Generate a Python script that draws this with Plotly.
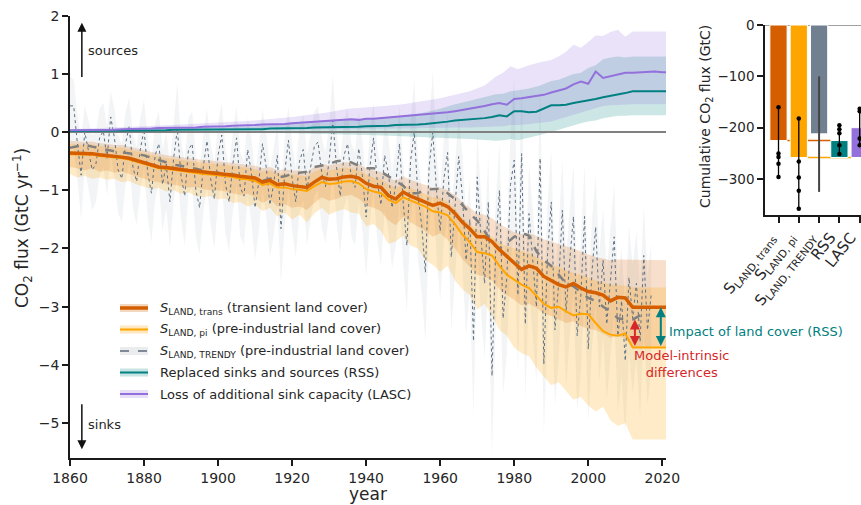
import plotly.graph_objects as go

W, H = 861, 505

# ---------------- data: main panel (GtC / yr) ----------------
YEARS2 = list(range(1860, 2021, 2)) + [2021]

S_TRANS = [-0.36, -0.36, -0.37, -0.37, -0.39, -0.40, -0.42, -0.43, -0.45, -0.49,
           -0.52, -0.56, -0.60, -0.61, -0.63, -0.64, -0.66, -0.67, -0.69, -0.70,
           -0.71, -0.72, -0.74, -0.76, -0.77, -0.79, -0.86, -0.83, -0.90, -0.89,
           -0.92, -0.93, -0.95, -0.86, -0.78, -0.81, -0.80, -0.77, -0.76, -0.79,
           -0.88, -0.93, -0.95, -1.09, -1.15, -1.03, -1.10, -1.15, -1.20, -1.26,
           -1.22, -1.28, -1.40, -1.55, -1.66, -1.80, -1.80, -1.88, -2.02, -2.14,
           -2.24, -2.36, -2.30, -2.34, -2.48, -2.55, -2.62, -2.66, -2.60, -2.68,
           -2.74, -2.76, -2.80, -2.90, -2.84, -2.85, -3.01, -3.01, -3.01, -3.01,
           -3.01, -3.01]
S_TRANS_HI = [-0.15, -0.16, -0.17, -0.16, -0.19, -0.20, -0.22, -0.22, -0.25, -0.28,
              -0.32, -0.35, -0.38, -0.40, -0.41, -0.43, -0.45, -0.46, -0.48, -0.49,
              -0.50, -0.51, -0.53, -0.55, -0.56, -0.58, -0.62, -0.60, -0.66, -0.64,
              -0.66, -0.66, -0.68, -0.60, -0.55, -0.57, -0.55, -0.52, -0.52, -0.55,
              -0.62, -0.66, -0.68, -0.78, -0.84, -0.76, -0.82, -0.86, -0.90, -0.95,
              -0.95, -1.00, -1.08, -1.20, -1.30, -1.40, -1.42, -1.48, -1.58, -1.65,
              -1.72, -1.75, -1.74, -1.78, -1.84, -1.88, -1.92, -1.95, -2.00, -2.05,
              -2.10, -2.15, -2.17, -2.20, -2.19, -2.19, -2.20, -2.20, -2.20, -2.20,
              -2.20, -2.20]
S_TRANS_LO = [-0.60, -0.62, -0.66, -0.62, -0.68, -0.66, -0.70, -0.68, -0.72, -0.76,
              -0.80, -0.84, -0.86, -0.88, -0.90, -0.92, -0.95, -0.94, -0.98, -1.00,
              -1.00, -1.02, -1.05, -1.08, -1.06, -1.12, -1.22, -1.15, -1.28, -1.24,
              -1.30, -1.28, -1.34, -1.22, -1.12, -1.18, -1.15, -1.10, -1.08, -1.14,
              -1.26, -1.30, -1.36, -1.52, -1.60, -1.45, -1.55, -1.62, -1.70, -1.80,
              -1.74, -1.85, -2.00, -2.18, -2.32, -2.45, -2.48, -2.55, -2.70, -2.80,
              -2.88, -2.98, -2.95, -3.02, -3.12, -3.16, -3.22, -3.28, -3.25, -3.33,
              -3.38, -3.40, -3.46, -3.54, -3.50, -3.55, -3.70, -3.70, -3.70, -3.70,
              -3.70, -3.70]

S_PI = [-0.38, -0.38, -0.39, -0.39, -0.41, -0.42, -0.44, -0.45, -0.47, -0.51,
        -0.54, -0.58, -0.62, -0.63, -0.65, -0.67, -0.69, -0.70, -0.72, -0.73,
        -0.74, -0.75, -0.77, -0.80, -0.81, -0.84, -0.91, -0.88, -0.95, -0.95,
        -0.98, -0.99, -1.01, -0.93, -0.86, -0.89, -0.88, -0.85, -0.84, -0.88,
        -0.98, -1.02, -1.05, -1.16, -1.22, -1.12, -1.17, -1.22, -1.28, -1.36,
        -1.38, -1.43, -1.58, -1.76, -1.89, -2.06, -2.08, -2.12, -2.30, -2.45,
        -2.54, -2.62, -2.68, -2.82, -2.95, -3.02, -3.00, -3.08, -3.15, -3.12,
        -3.13, -3.28, -3.42, -3.48, -3.50, -3.46, -3.70, -3.70, -3.70, -3.70,
        -3.70, -3.70]
S_PI_HI = [-0.20, -0.21, -0.22, -0.21, -0.24, -0.25, -0.27, -0.27, -0.30, -0.33,
           -0.37, -0.40, -0.43, -0.45, -0.46, -0.48, -0.50, -0.51, -0.53, -0.54,
           -0.55, -0.56, -0.58, -0.60, -0.62, -0.64, -0.68, -0.66, -0.72, -0.71,
           -0.73, -0.74, -0.76, -0.68, -0.63, -0.66, -0.64, -0.61, -0.62, -0.65,
           -0.73, -0.78, -0.81, -0.90, -0.96, -0.90, -0.96, -1.01, -1.06, -1.12,
           -1.13, -1.20, -1.32, -1.48, -1.58, -1.68, -1.72, -1.80, -1.90, -1.96,
           -2.00, -2.04, -2.08, -2.15, -2.22, -2.28, -2.32, -2.38, -2.42, -2.45,
           -2.50, -2.55, -2.58, -2.62, -2.63, -2.64, -2.67, -2.67, -2.67, -2.67,
           -2.67, -2.67]
S_PI_LO = [-0.72, -0.78, -0.75, -0.80, -0.78, -0.82, -0.80, -0.86, -0.84, -0.90,
           -0.94, -0.98, -0.96, -1.02, -1.00, -1.06, -1.04, -1.10, -1.12, -1.10,
           -1.16, -1.14, -1.22, -1.20, -1.28, -1.24, -1.36, -1.30, -1.45, -1.38,
           -1.50, -1.42, -1.55, -1.40, -1.30, -1.42, -1.36, -1.32, -1.38, -1.40,
           -1.62, -1.58, -1.70, -1.92, -1.88, -1.78, -1.95, -2.00, -2.20, -2.28,
           -2.40, -2.30, -2.55, -2.70, -2.80, -3.05, -2.95, -3.15, -3.40, -3.50,
           -3.70, -3.80, -3.85, -4.05, -4.20, -4.35, -4.30, -4.45, -4.60, -4.55,
           -4.70, -4.80, -4.72, -4.95, -5.05, -5.00, -5.28, -5.28, -5.28, -5.28,
           -5.28, -5.28]

RSS = [0.02, 0.02, 0.02, 0.02, 0.02, 0.02, 0.03, 0.03, 0.03, 0.03,
       0.03, 0.03, 0.03, 0.03, 0.04, 0.04, 0.04, 0.04, 0.04, 0.04,
       0.04, 0.04, 0.05, 0.05, 0.05, 0.05, 0.05, 0.06, 0.06, 0.06,
       0.07, 0.07, 0.07, 0.08, 0.08, 0.08, 0.09, 0.09, 0.09, 0.09,
       0.10, 0.10, 0.11, 0.11, 0.12, 0.12, 0.13, 0.13, 0.14, 0.15,
       0.16, 0.18, 0.20, 0.21, 0.21, 0.22, 0.24, 0.26, 0.29, 0.27,
       0.36, 0.36, 0.34, 0.35, 0.40, 0.46, 0.46, 0.47, 0.50, 0.52,
       0.54, 0.57, 0.60, 0.62, 0.65, 0.67, 0.70, 0.70, 0.70, 0.70,
       0.70, 0.70]
LASC = [0.03, 0.03, 0.03, 0.03, 0.04, 0.04, 0.04, 0.05, 0.05, 0.05,
        0.06, 0.06, 0.07, 0.07, 0.07, 0.08, 0.08, 0.08, 0.09, 0.09,
        0.10, 0.10, 0.11, 0.11, 0.12, 0.12, 0.13, 0.13, 0.14, 0.14,
        0.15, 0.16, 0.17, 0.17, 0.18, 0.19, 0.20, 0.21, 0.22, 0.21,
        0.23, 0.23, 0.24, 0.25, 0.26, 0.27, 0.28, 0.29, 0.31, 0.32,
        0.33, 0.34, 0.36, 0.38, 0.40, 0.43, 0.45, 0.48, 0.50, 0.47,
        0.57, 0.58, 0.60, 0.62, 0.64, 0.68, 0.71, 0.75, 0.82, 0.87,
        0.83, 1.04, 0.93, 0.96, 1.00, 1.02, 1.02, 1.03, 1.04, 1.04,
        1.03, 1.03]

YEARS_B = [1860, 1870, 1880, 1890, 1900, 1910, 1920, 1930, 1935, 1940,
           1945, 1950, 1955, 1960, 1964, 1968, 1972, 1975, 1977, 1979,
           1981, 1984, 1987, 1990, 1992, 1994, 1996, 1998, 2000, 2002,
           2004, 2006, 2008, 2010, 2012, 2021]
RSS_HI = [0.03, 0.04, 0.05, 0.06, 0.08, 0.10, 0.14, 0.18, 0.20, 0.22,
          0.25, 0.28, 0.33, 0.40, 0.48, 0.54, 0.60, 0.65, 0.66, 0.70,
          0.72, 0.75, 0.80, 0.88, 0.90, 0.95, 1.00, 1.02, 1.10, 1.15,
          1.25, 1.28, 1.30, 1.28, 1.30, 1.30]
RSS_LO = [0.00, 0.00, 0.00, 0.00, 0.00, -0.01, -0.02, -0.03, -0.04, -0.05,
          -0.06, -0.07, -0.08, -0.10, -0.11, -0.12, -0.13, -0.15, -0.14, -0.12,
          -0.14, -0.10, -0.05, 0.00, 0.04, 0.08, 0.12, 0.15, 0.18, 0.20,
          0.24, 0.26, 0.28, 0.28, 0.29, 0.29]
LASC_HI = [0.05, 0.07, 0.10, 0.13, 0.16, 0.20, 0.26, 0.34, 0.40, 0.42,
           0.45, 0.48, 0.53, 0.58, 0.64, 0.70, 0.80, 0.95, 1.02, 1.13,
           1.08, 1.15, 1.20, 1.24, 1.30, 1.38, 1.50, 1.45, 1.55, 1.66,
           1.65, 1.72, 1.76, 1.64, 1.73, 1.73]
LASC_LO = [0.01, 0.02, 0.02, 0.03, 0.03, 0.04, 0.04, 0.05, 0.05, 0.06,
           0.06, 0.06, 0.07, 0.07, 0.08, 0.08, 0.09, 0.10, 0.10, 0.12,
           0.12, 0.14, 0.16, 0.18, 0.22, 0.26, 0.30, 0.34, 0.38, 0.42,
           0.45, 0.46, 0.47, 0.47, 0.48, 0.48]

YEARS_TR_SMOOTH = list(range(1860, 2017, 2))
TRENDY_SMOOTH = [-0.27, -0.24, -0.22, -0.25, -0.28, -0.30, -0.33, -0.35, -0.36, -0.38,
                 -0.40, -0.44, -0.47, -0.52, -0.56, -0.58, -0.60, -0.63, -0.66, -0.70,
                 -0.70, -0.71, -0.73, -0.75, -0.80, -0.85, -0.84, -0.80, -0.78, -0.76,
                 -0.72, -0.70, -0.68, -0.60, -0.57, -0.55, -0.50, -0.49, -0.52, -0.58,
                 -0.62, -0.62, -0.68, -0.76, -0.84, -0.92, -1.05, -1.05, -0.99, -0.98,
                 -0.97, -1.05, -1.15, -1.25, -1.40, -1.52, -1.70, -1.92, -2.00, -1.90,
                 -1.80, -1.73, -1.78, -2.05, -2.20, -2.30, -2.45, -2.60, -2.65, -2.75,
                 -2.85, -2.90, -3.00, -3.08, -3.20, -3.22, -3.22, -3.15, -3.12]

YEARS_TR_ANNUAL = list(range(1860, 2018))
TRENDY_ANNUAL = [0.45, 0.45, -0.20, -0.74, 0.00, -0.30, -0.65, -0.55, -0.10, 0.02,
                 -0.45, 0.26, -0.10, -0.65, -0.80, -0.20, 0.10, -0.60, -0.85, -0.30,
                 0.05, -0.70, -1.05, -0.40, -0.20, -0.90, -0.55, -1.20, -0.45, 0.05,
                 -0.75, -1.10, -0.30, -0.20, -1.00, -1.30, -0.60, -0.15, -0.80, -1.15,
                 -0.40, -0.05, -0.90, -1.20, -0.55, -0.10, -0.95, -1.10, -0.30, -0.70,
                 -1.30, -0.85, -0.20, -0.60, -1.25, -0.90, -0.40, -1.66, -0.70, -0.14,
                 -0.80, -1.20, -0.50, -0.30, -1.00, -0.60, -0.25, -0.17, -0.70, -0.94,
                 -0.50, 0.20, -0.60, -1.10, -0.40, -0.20, -0.80, -0.95, -0.28, -0.75,
                 -1.46, -0.60, -0.10, -0.85, -1.25, -0.40, -0.70, -1.30, -0.90, -0.20,
                 -1.20, -1.95, -0.50, 0.00, -1.10, -1.60, -2.41, -0.60, 0.00, -1.00,
                 -1.70, -0.80, -0.35, -2.15, -1.20, -0.42, -1.10, -2.20, -1.50, -3.59,
                 -0.77, -1.80, -2.60, -1.20, -4.19, -2.00, -1.00, -3.20, -2.50, -0.90,
                 -0.48, -2.80, -0.37, -3.30, -1.40, -2.20, -3.00, -0.45, -3.99, -2.10,
                 -1.20, -3.40, -2.60, -1.34, -3.10, -2.20, -1.45, -3.50, -2.80, -1.45,
                 -3.73, -2.40, -1.63, -3.00, -2.20, -3.30, -2.60, -1.80, -3.50, -2.90,
                 -3.93, -2.50, -3.20, -2.60, -3.60, -2.12, -3.40, -2.80]
TRENDY_ANNUAL_HI = [0.95, 0.90, 0.30, -0.10, 0.45, 0.20, -0.05, 0.00, 0.40, 0.50,
                    0.10, 0.70, 0.40, -0.05, -0.20, 0.35, 0.60, -0.05, -0.25, 0.25,
                    0.55, -0.10, -0.45, 0.15, 0.35, -0.30, 0.00, -0.55, 0.10, 0.85,
                    -0.15, -0.50, 0.25, 0.35, -0.40, -0.70, -0.05, 0.40, -0.20, -0.55,
                    0.15, 0.50, -0.30, -0.60, 0.00, 0.45, -0.35, -0.50, 0.25, -0.10,
                    -0.70, -0.25, 0.40, 0.00, -0.65, -0.30, 0.20, -1.00, -0.10, 0.45,
                    -0.20, -0.60, 0.10, 0.30, -0.40, 0.00, 0.35, 0.45, -0.10, -0.35,
                    0.10, 1.00, 0.00, -0.50, 0.20, 0.40, -0.20, -0.35, 0.35, -0.15,
                    -0.85, 0.00, 0.50, -0.25, -0.65, 0.20, -0.10, -0.70, -0.30, 0.45,
                    -0.55, -1.30, 0.15, 0.90, -0.45, -0.95, -1.70, 0.05, 1.05, -0.35,
                    -1.00, -0.10, 0.35, -1.40, -0.50, 0.30, -0.40, -1.45, -0.80, -2.70,
                    0.00, -1.05, -1.80, -0.40, -3.20, -1.20, -0.20, -2.30, -1.70, -0.05,
                    0.95, -1.90, 0.85, -2.40, -0.55, -1.30, -2.10, 0.80, -3.00, -1.20,
                    -0.30, -2.50, -1.70, -0.45, -2.20, -1.30, -0.55, -2.60, -1.90, -0.55,
                    -2.80, -1.50, -0.75, -2.10, -1.30, -2.40, -1.70, -0.90, -2.60, -2.00,
                    -3.00, -1.60, -2.30, -1.70, -2.70, -1.25, -2.50, -1.90]
TRENDY_ANNUAL_LO = [-0.15, -0.30, -0.80, -1.50, -0.60, -1.00, -1.35, -1.20, -0.75, -0.60,
                    -1.10, -0.35, -0.80, -1.40, -1.55, -0.90, -0.50, -1.30, -1.60, -1.00,
                    -0.60, -1.45, -1.90, -1.15, -0.90, -1.70, -1.30, -2.00, -1.20, -0.70,
                    -1.50, -1.95, -1.05, -0.95, -1.80, -2.10, -1.40, -0.90, -1.60, -2.00,
                    -1.20, -0.85, -1.75, -2.05, -1.35, -0.90, -1.80, -1.95, -1.10, -1.55,
                    -2.20, -1.70, -1.00, -1.45, -2.15, -1.80, -1.25, -2.60, -1.60, -0.95,
                    -1.70, -2.15, -1.40, -1.15, -1.95, -1.50, -1.10, -1.00, -1.65, -1.90,
                    -1.40, -0.60, -1.55, -2.10, -1.30, -1.10, -1.80, -1.95, -1.20, -1.70,
                    -2.50, -1.55, -1.00, -1.85, -2.30, -1.35, -1.70, -2.35, -1.95, -1.15,
                    -2.30, -3.10, -1.50, -0.95, -2.20, -2.75, -3.60, -1.65, -1.00, -2.10,
                    -2.90, -1.90, -1.40, -3.40, -2.40, -1.55, -2.30, -3.50, -2.75, -4.90,
                    -2.00, -3.10, -3.90, -2.50, -5.55, -3.30, -2.30, -4.50, -3.80, -2.20,
                    -1.70, -4.10, -1.60, -4.60, -2.70, -3.50, -4.30, -1.70, -5.20, -3.40,
                    -2.50, -4.70, -3.90, -2.65, -4.40, -3.50, -2.75, -4.80, -4.10, -2.75,
                    -5.00, -3.70, -2.95, -4.30, -3.50, -4.60, -3.90, -3.10, -4.80, -4.20,
                    -5.20, -3.80, -4.50, -3.90, -4.90, -3.40, -4.70, -4.10]

X_TICKS = [1860, 1880, 1900, 1920, 1940, 1960, 1980, 2000, 2020]
Y_TICKS = [-5, -4, -3, -2, -1, 0, 1, 2]

# ---------------- data: inset (cumulative GtC) ----------------
INSET_LABELS = ["S<sub>LAND, trans</sub>", "S<sub>LAND, pi</sub>",
                "S<sub>LAND, TRENDY</sub>", "RSS", "LASC"]
CUM_TRANS = -225
CUM_PI = -258
CUM_TRENDY = -212
CUM_RSS = (-258, -225)
CUM_LASC = (-258, -200)
MODELS_TRANS = [-160, -250, -257, -270, -296]
MODELS_PI = [-182, -266, -297, -323, -358]
RANGE_TRENDY = [-100, -325]
MODELS_RSS = [-195, -203, -211, -234, -251]
MODELS_LASC = [-163, -168, -221, -234]
INSET_Y_TICKS = [0, -100, -200, -300]

# ---------------- styling ----------------
FONT = "DejaVu Sans"
C_TRANS = "#d55e00"
C_PI = "#ffa500"
C_TRENDY = "#708090"
C_RSS = "#008080"
C_LASC = "#9370db"
C_RED = "#d62728"
TXT = "#262626"
X_RANGE = [1860, 2021]
Y_RANGE = [-5.6, 2]


def pxx(px):
    return px / W


def pxy(py):
    return 1 - py / H


fig = go.Figure()


def band(x, lo, hi, color):
    fig.add_trace(go.Scatter(x=x, y=hi, mode="lines", line=dict(width=0),
                             hoverinfo="skip", showlegend=False))
    fig.add_trace(go.Scatter(x=x, y=lo, mode="lines", line=dict(width=0),
                             fill="tonexty", fillcolor=color,
                             hoverinfo="skip", showlegend=False))


band(YEARS_TR_ANNUAL, TRENDY_ANNUAL_LO, TRENDY_ANNUAL_HI, "rgba(112,128,144,0.09)")
band(YEARS2, S_TRANS_LO, S_TRANS_HI, "rgba(213,94,0,0.20)")
band(YEARS2, S_PI_LO, S_PI_HI, "rgba(255,165,0,0.22)")

fig.add_trace(go.Scatter(x=YEARS_TR_ANNUAL, y=TRENDY_ANNUAL, mode="lines",
                         line=dict(color="#5d6f82", width=1, dash="dot"),
                         showlegend=False, hoverinfo="skip"))
fig.add_trace(go.Scatter(x=YEARS_TR_SMOOTH, y=TRENDY_SMOOTH, mode="lines",
                         line=dict(color="#7f7f7f", width=2.5, dash="dash"),
                         showlegend=False, hoverinfo="skip"))

band(YEARS_B, RSS_LO, RSS_HI, "rgba(0,128,128,0.20)")
band(YEARS_B, LASC_LO, LASC_HI, "rgba(147,112,219,0.20)")

# zero reference line
fig.add_trace(go.Scatter(x=X_RANGE, y=[0, 0], mode="lines",
                         line=dict(color="#808080", width=2),
                         showlegend=False, hoverinfo="skip"))

fig.add_trace(go.Scatter(x=YEARS2, y=RSS, mode="lines",
                         line=dict(color=C_RSS, width=2), showlegend=False, hoverinfo="skip"))
fig.add_trace(go.Scatter(x=YEARS2, y=LASC, mode="lines",
                         line=dict(color=C_LASC, width=2), showlegend=False, hoverinfo="skip"))
fig.add_trace(go.Scatter(x=YEARS2, y=S_PI, mode="lines",
                         line=dict(color=C_PI, width=2), showlegend=False, hoverinfo="skip"))
fig.add_trace(go.Scatter(x=YEARS2, y=S_TRANS, mode="lines",
                         line=dict(color=C_TRANS, width=3.5), showlegend=False, hoverinfo="skip"))

# ---------------- inset ----------------
fig.add_trace(go.Bar(x=[0, 1, 2], y=[CUM_TRANS, CUM_PI, CUM_TRENDY],
                     marker=dict(color=[C_TRANS, C_PI, C_TRENDY],
                                 line=dict(color="white", width=1)),
                     width=0.85, xaxis="x2", yaxis="y2", showlegend=False,
                     hoverinfo="skip"))
fig.add_trace(go.Bar(x=[3], y=[CUM_RSS[1] - CUM_RSS[0]], base=[CUM_RSS[0]],
                     marker=dict(color=C_RSS, line=dict(color="white", width=1)),
                     width=0.85, xaxis="x2", yaxis="y2", showlegend=False,
                     hoverinfo="skip"))
fig.add_trace(go.Bar(x=[4], y=[CUM_LASC[1] - CUM_LASC[0]], base=[CUM_LASC[0]],
                     marker=dict(color=C_LASC, line=dict(color="white", width=1)),
                     width=0.85, xaxis="x2", yaxis="y2", showlegend=False,
                     hoverinfo="skip"))
fig.add_trace(go.Scatter(x=[2, 2], y=RANGE_TRENDY, mode="lines",
                         line=dict(color="#444444", width=2),
                         xaxis="x2", yaxis="y2", showlegend=False, hoverinfo="skip"))
for idx, models in [(0, MODELS_TRANS), (1, MODELS_PI), (3, MODELS_RSS), (4, MODELS_LASC)]:
    fig.add_trace(go.Scatter(x=[idx] * len(models), y=models, mode="lines+markers",
                             line=dict(color="black", width=1.3),
                             marker=dict(color="black", size=4.5),
                             xaxis="x2", yaxis="y2", showlegend=False, hoverinfo="skip",
                             cliponaxis=False))

shapes = [
    dict(type="line", xref="x2 domain", yref="y2", x0=0, x1=1, y0=0, y1=0,
         line=dict(color="#808080", width=1.5), layer="below"),
    dict(type="line", xref="x2", yref="y2", x0=0.425, x1=2.575, y0=CUM_TRANS, y1=CUM_TRANS,
         line=dict(color=C_TRANS, width=1.5), layer="below"),
    dict(type="line", xref="x2", yref="y2", x0=1.425, x1=3.575, y0=CUM_PI, y1=CUM_PI,
         line=dict(color=C_PI, width=1.5), layer="below"),
]

# ---------------- manual legend ----------------
LEGEND = [
    ("<i>S</i><sub>LAND, trans</sub> (transient land cover)", C_TRANS, 3.5, "solid", "rgba(213,94,0,0.25)"),
    ("<i>S</i><sub>LAND, pi</sub> (pre-industrial land cover)", C_PI, 2, "solid", "rgba(255,165,0,0.25)"),
    ("<i>S</i><sub>LAND, TRENDY</sub> (pre-industrial land cover)", "#7f8a96", 2, "dash", "rgba(112,128,144,0.15)"),
    ("Replaced sinks and sources (RSS)", C_RSS, 2, "solid", "rgba(0,128,128,0.22)"),
    ("Loss of additional sink capacity (LASC)", C_LASC, 2, "solid", "rgba(147,112,219,0.22)"),
]
annotations = []
for i, (label, col, lw, dash, bcol) in enumerate(LEGEND):
    yc = 308 + i * 21.5
    shapes.append(dict(type="rect", xref="paper", yref="paper",
                       x0=pxx(120), x1=pxx(148), y0=pxy(yc + 4), y1=pxy(yc - 4),
                       fillcolor=bcol, line=dict(width=0)))
    shapes.append(dict(type="line", xref="paper", yref="paper",
                       x0=pxx(120), x1=pxx(148), y0=pxy(yc), y1=pxy(yc),
                       line=dict(color=col, width=lw, dash=dash)))
    annotations.append(dict(text=label, xref="paper", yref="paper",
                            x=pxx(158), y=pxy(yc), xanchor="left", yanchor="middle",
                            showarrow=False, font=dict(size=13, color=TXT, family=FONT)))

# axis titles
annotations += [
    dict(text="CO<sub>2</sub> flux (GtC yr<sup>−1</sup>)", xref="paper", yref="paper",
         x=pxx(23), y=pxy(228), textangle=-90, showarrow=False,
         xanchor="center", yanchor="middle",
         font=dict(size=17, color=TXT, family=FONT)),
    dict(text="year", xref="paper", yref="paper", x=pxx(368), y=pxy(494),
         xanchor="center", yanchor="middle", showarrow=False,
         font=dict(size=17, color=TXT, family=FONT)),
    dict(text="Cumulative CO<sub>2</sub> flux (GtC)", xref="paper", yref="paper",
         x=pxx(706), y=pxy(117), textangle=-90, showarrow=False,
         xanchor="center", yanchor="middle",
         font=dict(size=14, color=TXT, family=FONT)),
]

# sources / sinks arrows
annotations += [
    dict(x=1863.2, y=1.88, ax=1863.2, ay=0.92, xref="x", yref="y", axref="x", ayref="y",
         text="", showarrow=True, arrowhead=2, arrowsize=1.2, arrowwidth=1.5, arrowcolor="#111"),
    dict(text="sources", x=1864.3, y=1.4, xref="x", yref="y", xanchor="left",
         showarrow=False, font=dict(size=13, color=TXT, family=FONT)),
    dict(x=1863.2, y=-5.45, ax=1863.2, ay=-4.65, xref="x", yref="y", axref="x", ayref="y",
         text="", showarrow=True, arrowhead=2, arrowsize=1.2, arrowwidth=1.5, arrowcolor="#111"),
    dict(text="sinks", x=1864.3, y=-5.02, xref="x", yref="y", xanchor="left",
         showarrow=False, font=dict(size=13, color=TXT, family=FONT)),
]

# double arrows for differences
trendy_end = TRENDY_SMOOTH[-3]
annotations += [
    dict(x=2012.6, y=trendy_end, ax=2012.6, ay=S_PI[-1], xref="x", yref="y",
         axref="x", ayref="y", text="", showarrow=True, arrowhead=2, arrowside="end+start",
         arrowsize=1, arrowwidth=2, arrowcolor=C_RED),
    dict(x=2019.6, y=S_TRANS[-1], ax=2019.6, ay=S_PI[-1], xref="x", yref="y",
         axref="x", ayref="y", text="", showarrow=True, arrowhead=2, arrowside="end+start",
         arrowsize=1, arrowwidth=2, arrowcolor=C_RSS),
    dict(text="Impact of land cover (RSS)", xref="paper", yref="paper",
         x=pxx(667), y=pxy(331), xanchor="left", yanchor="middle", showarrow=False,
         font=dict(size=13, color=C_RSS, family=FONT)),
    dict(text="Model-intrinsic<br>differences", xref="paper", yref="paper",
         x=pxx(681), y=pxy(364), xanchor="center", yanchor="middle", align="center",
         showarrow=False, font=dict(size=13, color=C_RED, family=FONT)),
]

axis_common = dict(showgrid=False, zeroline=False, showline=True, linecolor="#1a1a1a",
                   linewidth=1.5, ticks="outside", ticklen=6, tickwidth=1.5,
                   tickcolor="#1a1a1a", automargin=False, ticklabeloverflow="allow")

fig.update_layout(
    width=W, height=H, margin=dict(l=0, r=0, t=0, b=0),
    paper_bgcolor="white", plot_bgcolor="rgba(0,0,0,0)",
    font=dict(family=FONT, color=TXT), hovermode=False, showlegend=False,
    barmode="overlay",
    xaxis=dict(domain=[pxx(70), pxx(666)], range=X_RANGE, tickvals=X_TICKS,
               tickfont=dict(size=14, color=TXT, family=FONT), anchor="y", **axis_common),
    yaxis=dict(domain=[pxy(458), pxy(15.7)], range=Y_RANGE, tickvals=Y_TICKS,
               tickfont=dict(size=14, color=TXT, family=FONT), anchor="x", **axis_common),
    xaxis2=dict(domain=[pxx(765), 1.0], range=[-0.665, 4.065], tickvals=[0, 1, 2, 3, 4],
                ticktext=INSET_LABELS, tickangle=-52, ticklabelshift=-9,
                tickfont=dict(size=15, color=TXT, family=FONT), anchor="y2", **axis_common),
    yaxis2=dict(domain=[pxy(215), pxy(25)], range=[-370, 0], tickvals=INSET_Y_TICKS,
                tickfont=dict(size=13.5, color=TXT, family=FONT), anchor="x2", **axis_common),
    shapes=shapes, annotations=annotations,
)

fig.write_html("out.html", config={"displayModeBar": False},
               post_script="document.body.style.margin='0';document.body.style.padding='0';"
                           "document.documentElement.style.overflow='hidden';")
